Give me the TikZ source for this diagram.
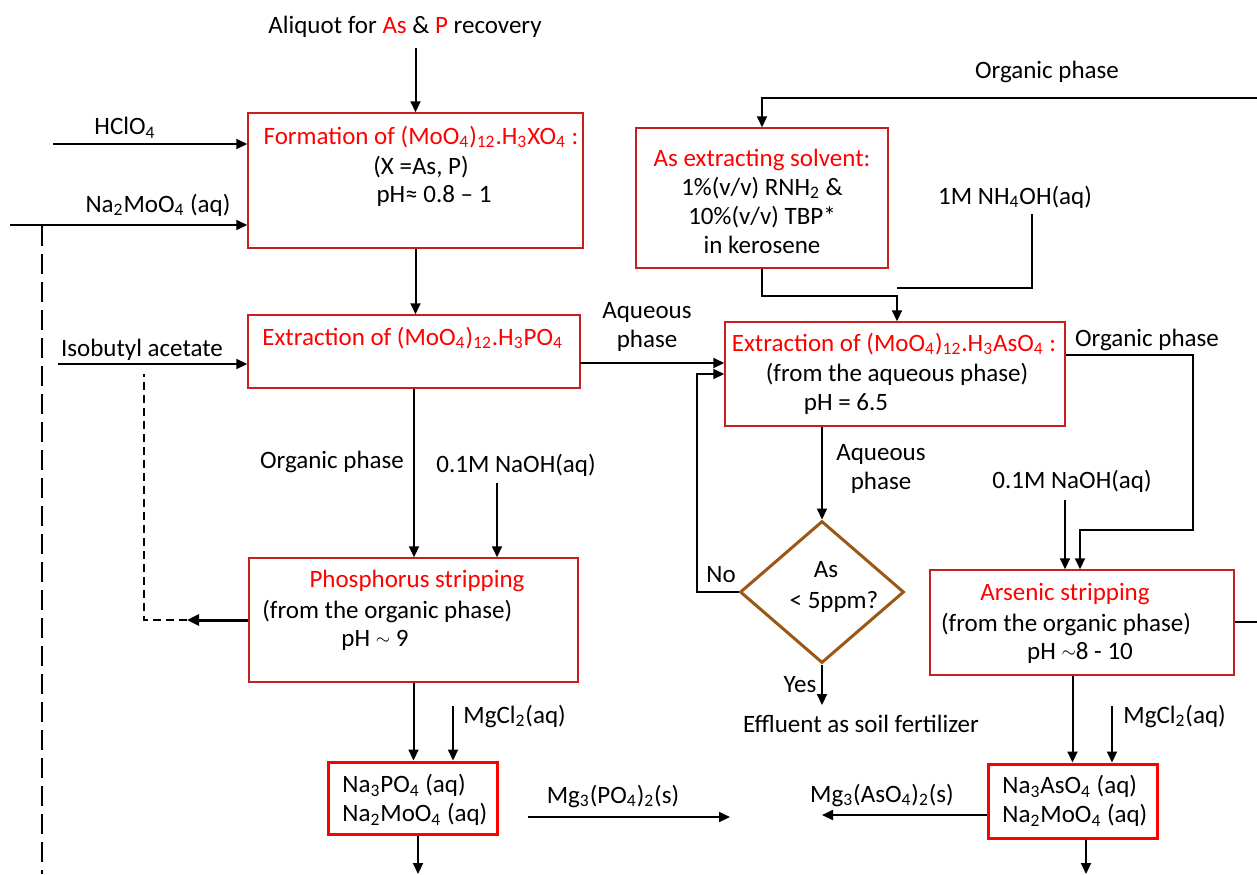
\documentclass[tikz,border=0pt]{standalone}
\usepackage{fontspec}
\setmainfont{Carlito}
\usetikzlibrary{arrows.meta,shapes.geometric}
\newcommand\sbs[1]{\textsubscript{#1}}
\newcommand\tld{\raisebox{0.15ex}{\small$\sim$}}
\definecolor{boxred}{RGB}{200,30,30}
\definecolor{txtred}{RGB}{255,0,0}
\definecolor{brn}{RGB}{156,87,20}
\begin{document}
\begin{tikzpicture}[x=0.5pt,y=-0.5pt,
  font=\fontsize{12.5}{14.5}\selectfont,
  box/.style={draw=boxred, line width=0.75pt, rectangle, inner sep=0pt},
  hbox/.style={draw=txtred, line width=1.5pt, rectangle, inner sep=0pt},
  txt/.style={inner sep=0pt, align=center},
  ltxt/.style={inner sep=0pt, align=left, anchor=west},
  arr/.style={-{Triangle[length=5.5pt,width=5pt]}, line width=1pt},
  thickarr/.style={-{Triangle[length=6pt,width=5.5pt]}, line width=1.5pt},
  ln/.style={line width=1pt},
  lgdash/.style={line width=1pt, dash pattern=on 10pt off 4pt},
  shdash/.style={line width=1pt, dash pattern=on 4pt off 2.5pt}]
\useasboundingbox (0,0) rectangle (1257,874);

% ---------- boxes ----------
\node[box, minimum width=167.5pt, minimum height=67.5pt] (b1) at (415.5,180.5) {};
\node[box, minimum width=166pt, minimum height=36.5pt] (b2) at (414,351.5) {};
\node[box, minimum width=164.5pt, minimum height=62pt] (b3) at (413.5,620) {};
\node[hbox, minimum width=84.5pt, minimum height=36pt] (b5) at (412.5,798) {};
\node[box, minimum width=126pt, minimum height=70pt] (sv) at (762,198) {};
\node[box, minimum width=170pt, minimum height=52pt] (b4) at (895,374) {};
\node[box, minimum width=152pt, minimum height=52.5pt] (b6) at (1082,622.5) {};
\node[hbox, minimum width=84.5pt, minimum height=37pt] (b7) at (1072.5,801) {};
\node[diamond, draw=brn, line width=1.5pt, minimum width=82pt, minimum height=71pt, inner sep=0pt] (dm) at (822,592) {};

% ---------- texts ----------
\node[txt] (aliq) at (405,27) {Aliquot for \textcolor{txtred}{As} \& \textcolor{txtred}{P} recovery};
\node[txt] (hcl) at (125,128) {HClO\sbs{4}};
\node[txt] (nam) at (158,205) {Na\sbs{2}MoO\sbs{4} (aq)};
\node[txt] (iso) at (142,350) {Isobutyl acetate};

\node[txt, text=txtred] (t1a) at (421,137) {Formation of (MoO\sbs{4})\sbs{12}.H\sbs{3}XO\sbs{4} :};
\node[txt] (t1b) at (421,167) {(X =As, P)};
\node[txt] (t1c) at (434,196) {pH≈ 0.8 – 1};

\node[ltxt, text=txtred] (t2a) at (262,338) {Extraction of (MoO\sbs{4})\sbs{12}.H\sbs{3}PO\sbs{4}};
\node[txt] (aq1) at (647,327) {Aqueous\\phase};
\node[txt] (org1) at (332,462) {Organic phase};
\node[txt] (naoh1) at (516,465) {0.1M NaOH(aq)};

\node[txt, text=txtred] (t3a) at (417,581) {Phosphorus stripping};
\node[ltxt] (t3b) at (262,611) {(from the organic phase)};
\node[txt] (t3c) at (375,640) {pH \tld\ 9};

\node[ltxt] (mg1) at (463,716) {MgCl\sbs{2}(aq)};
\node[ltxt, align=left] (t5) at (342,800) {Na\sbs{3}PO\sbs{4} (aq)\\Na\sbs{2}MoO\sbs{4} (aq)};
\node[txt] (mgp) at (613,796) {Mg\sbs{3}(PO\sbs{4})\sbs{2}(s)};
\node[txt] (mgas) at (882,795) {Mg\sbs{3}(AsO\sbs{4})\sbs{2}(s)};

\node[txt] (org0) at (1047,72) {Organic phase};
\node[txt] (tsv) at (762,201) {\textcolor{txtred}{As extracting solvent:}\\1\%(v/v) RNH\sbs{2} \&\\10\%(v/v) TBP*\\in kerosene};
\node[txt] (nh) at (1015,197) {1M NH\sbs{4}OH(aq)};

\node[txt, text=txtred] (t4a) at (894,344) {Extraction of (MoO\sbs{4})\sbs{12}.H\sbs{3}AsO\sbs{4} :};
\node[txt] (t4b) at (897,374) {(from the aqueous phase)};
\node[txt] (t4c) at (846,404) {pH = 6.5};
\node[txt] (org2) at (1147,340) {Organic phase};
\node[txt] (aq2) at (881,469) {Aqueous\\phase};

\node[txt] (no) at (721,575) {No};
\node[txt] (dmt) at (826,587) {As\\[1pt]\hspace*{8pt}< 5ppm?};
\node[txt] (yes) at (800,685) {Yes};
\node[txt] (eff) at (861,724) {Effluent as soil fertilizer};
\node[txt] (naoh2) at (1072,481) {0.1M NaOH(aq)};

\node[txt, text=txtred] (t6a) at (1065,594) {Arsenic stripping};
\node[txt] (t6b) at (1066,624) {(from the organic phase)};
\node[txt] (t6c) at (1080,653) {pH \tld8 - 10};
\node[ltxt] (mg2) at (1123,716) {MgCl\sbs{2}(aq)};
\node[ltxt, align=left] (t7) at (1002,801) {Na\sbs{3}AsO\sbs{4} (aq)\\Na\sbs{2}MoO\sbs{4} (aq)};

% ---------- coordinates ----------
\coordinate (hs) at (53,144);
\coordinate (ns) at (10,225);
\coordinate (dv1) at (42,226);
\coordinate (dv2) at (42,874);
\coordinate (is) at (58,364);
\coordinate (rt) at (187,620);
\coordinate (dc) at (144,620);
\coordinate (di) at (144,374);
\coordinate (aq) at (580,363);
\coordinate (n1) at (497,483);
\coordinate (m1) at (453,706);
\coordinate (bot1) at (418,874);
\coordinate (p1) at (528,817);
\coordinate (p2) at (730,817);
\coordinate (a2) at (822,815);
\coordinate (tr) at (1257,98);
\coordinate (j1) at (897,296);
\coordinate (n2) at (1032,214);
\coordinate (n3) at (1032,288);
\coordinate (fb) at (697,592);
\coordinate (effe) at (822,705);
\coordinate (o2) at (1193,355);
\coordinate (o3) at (1080,530);
\coordinate (n4) at (1065,500);
\coordinate (m2) at (1112,706);
\coordinate (bot2) at (1086,874);
\coordinate (re) at (1257,622);

% ---------- connectors ----------
\draw[arr] ([yshift=-5pt]aliq.south -| b1.north) -- (b1.north);
\draw[arr] (hs) -- (b1.west |- hs);
\draw[arr] (ns) -- (b1.west |- ns);
\draw[lgdash] (dv1) -- (dv2);
\draw[arr] (b1.south) -- (b1.south |- b2.north);
\draw[arr] (is) -- (b2.west |- is);
\draw[thickarr] (b3.west) -- (rt);
\draw[shdash] (rt) -- (dc) -- (di);
\draw[arr] (aq) -- (aq -| b4.west);
\draw[arr] (b2.south) -- (b2.south |- b3.north);
\draw[arr] (n1) -- (n1 |- b3.north);
\draw[arr] (b3.south) -- (b3.south |- b5.north);
\draw[arr] (m1) -- (m1 |- b5.north);
\draw[arr] (bot1 |- b5.south) -- (bot1);
\draw[arr] (p1) -- (p2);
\draw[arr] (b7.west |- a2) -- (a2);
\draw[arr] (tr) -| (sv.north);
\draw[arr] (sv.south) |- (j1) -- (j1 |- b4.north);
\draw[ln] (n2) -- (n3) -- (n3 -| j1);
\draw[arr] (dm.north |- b4.south) -- (dm.north);
\draw[arr] (dm.west) -- (fb) |- (b4.west);
\draw[arr] (dm.south) -- (effe);
\draw[arr] (b4.east |- o2) -- (o2) |- (o3) -- (o3 |- b6.north);
\draw[arr] (n4) -- (n4 |- b6.north);
\draw[arr] (b7.north |- b6.south) -- (b7.north);
\draw[arr] (m2) -- (m2 |- b7.north);
\draw[arr] (bot2 |- b7.south) -- (bot2);
\draw[ln] (b6.east |- re) -- (re);
\end{tikzpicture}
\end{document}
